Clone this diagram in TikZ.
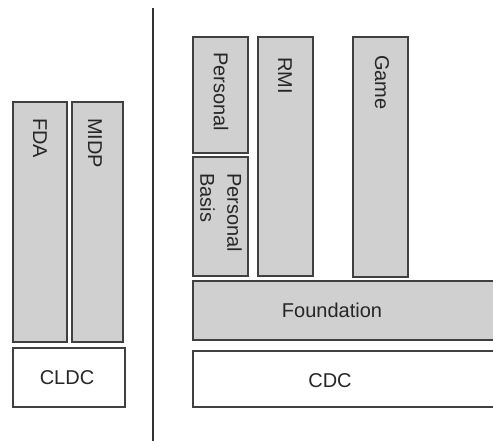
\documentclass[tikz,border=0pt]{standalone}
\usepackage{fontspec}
\setmainfont{Liberation Sans}
\usetikzlibrary{calc}
\definecolor{boxfill}{RGB}{208,208,208}
\definecolor{boxline}{RGB}{64,64,64}
\tikzset{
  layer/.style={draw=boxline, line width=1.8bp, fill=boxfill, inner sep=0pt},
  base/.style={draw=boxline, line width=1.8bp, fill=white, inner sep=0pt},
  txt/.style={inner sep=0pt, font=\fontsize{20bp}{27bp}\selectfont, text=black!85},
  vtxt/.style={txt, rotate=-90, anchor=west, align=left},
}
\begin{document}
\begin{tikzpicture}[x=1bp, y=-1bp]
  \clip (0,0) rectangle (493,441);
  \fill[white] (0,0) rectangle (493,441);

  % CLDC side
  \path[layer] (13,102) rectangle (67,342) coordinate (fdaC);
  \coordinate (fda) at (40,118);
  \path[layer] (72,102) rectangle (123,342);
  \coordinate (midp) at (95,118);
  \path[base] (13,348) rectangle (125,407);
  \coordinate (cldc) at (67,378);

  \node[vtxt] (fdaT) at (fda) {FDA};
  \node[vtxt] (midpT) at (midp) {MIDP};
  \node[txt] (cldcT) at (cldc) {CLDC};

  % separator
  \coordinate (sepTop) at (153,8);
  \coordinate (sepBot) at (153,441);
  \draw[line width=1.8bp, black!80] (sepTop) -- (sepBot);

  % CDC side
  \path[layer] (193,37) rectangle (248,153);
  \path[layer] (193,157) rectangle (248,276);
  \path[layer] (258,37) rectangle (313,276);
  \path[layer] (353,37) rectangle (408,277);
  \path[layer] (193,281) rectangle (510,340);
  \path[base] (193,351) rectangle (510,407);

  \node[vtxt] (personal) at (221,52) {Personal};
  \node[vtxt] (pbasis) at (221,173) {Personal\\Basis};
  \node[vtxt] (rmi) at (285,57) {RMI};
  \node[vtxt] (game) at (382,55) {Game};
  \node[txt] (found) at (332,310) {Foundation};
  \node[txt] (cdc) at (330,381) {CDC};
\end{tikzpicture}
\end{document}
